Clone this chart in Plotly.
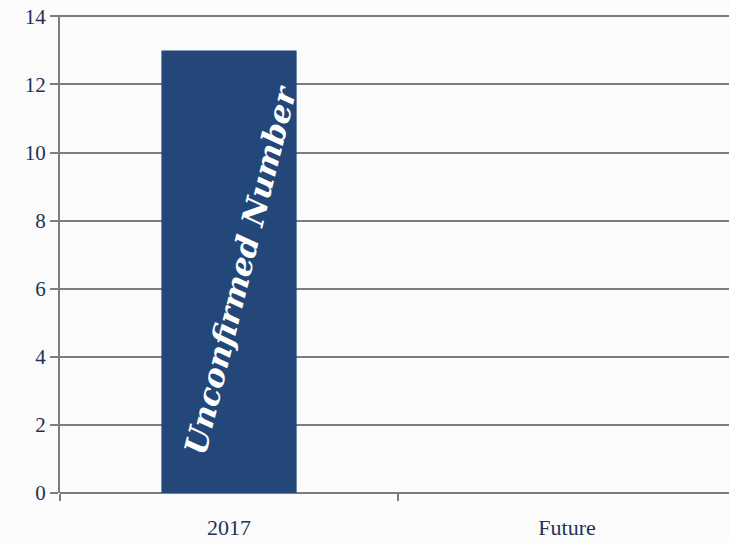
import plotly.graph_objects as go

categories = ["2017", "Future"]
values = [13, None]
bar_label = "Unconfirmed Number"
y_ticks = [0, 2, 4, 6, 8, 10, 12, 14]

navy = "#224778"
grid = "#7a7d84"
text_col = "#1c3358"
font_family = "Liberation Serif, DejaVu Serif, serif"

fig = go.Figure()
fig.add_trace(go.Bar(
    x=categories, y=values, marker=dict(color=navy, line=dict(width=0)),
    width=0.4, hoverinfo="skip",
))
fig.add_annotation(
    x=0, y=values[0] * 0.505, xref="x", yref="y", xshift=12,
    text="<b><i>" + bar_label + "</i></b>", textangle=-76, showarrow=False,
    font=dict(family="DejaVu Serif, serif", size=31, color="#ffffff"),
)
fig.update_layout(
    width=729, height=543,
    margin=dict(l=60, r=0, t=15, b=50),
    paper_bgcolor="#fbfbfb", plot_bgcolor="#fbfbfb",
    showlegend=False, bargap=0.6,
    font=dict(family=font_family, color=text_col),
)
fig.update_xaxes(
    range=[-0.5, 1.479], showgrid=False, showline=False, zeroline=False,
    ticks="outside", tickson="boundaries", ticklen=7, tickwidth=2, tickcolor=grid,
    tickfont=dict(size=22, color=text_col), ticklabelstandoff=19, fixedrange=True,
)
fig.update_yaxes(
    range=[0, 14.04], tickvals=y_ticks, showgrid=True, gridcolor=grid, gridwidth=2,
    showline=True, linecolor=grid, linewidth=2,
    zeroline=True, zerolinecolor=grid, zerolinewidth=2,
    ticks="outside", ticklen=8, tickwidth=2, tickcolor=grid,
    tickfont=dict(size=21, color=text_col), fixedrange=True,
)
fig.write_html("out.html", config={"displayModeBar": False},
               post_script="document.body.style.margin='0';")
